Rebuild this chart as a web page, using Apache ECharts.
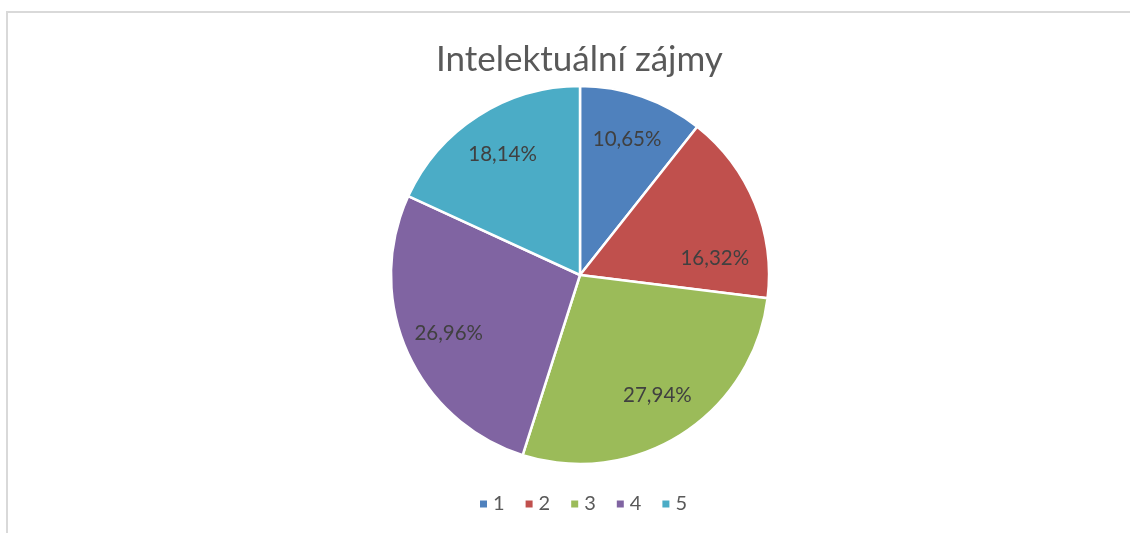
<!DOCTYPE html>
<html>
<head>
<meta charset="utf-8">
<title>Intelektuální zájmy</title>
<script src="https://cdn.jsdelivr.net/npm/echarts@6/dist/echarts.min.js"></script>
<style>
    html, body { margin: 0; padding: 0; background: #fff; }
    .frame {
        position: absolute; left: 6px; top: 11px; width: 1130px; height: 530px;
        border-left: 2px solid #d9d9d9; border-top: 2px solid #d9d9d9;
    }
    #main { position: absolute; left: 0; top: 0; width: 1130px; height: 533px; }
</style>
</head>
<body>
<div class="frame"></div>
<div id="main"></div>
<script>
    // data
    const categories = ['1', '2', '3', '4', '5'];
    const shares = [10.65, 16.32, 27.94, 26.96, 18.14];
    const colors = ['#4F81BD', '#C0504D', '#9BBB59', '#8064A2', '#4BACC6'];

    const pieData = categories.map((c, i) => ({ name: c, value: shares[i] }));
    const fmt = p => p.value.toFixed(2).replace('.', ',') + '%';

    let chart = echarts.init(document.getElementById('main'));
    chart.setOption({
        color: colors,
        title: {
            text: 'Intelektuální zájmy',
            left: 431,
            top: 37,
            textStyle: { fontFamily: 'Lato', fontSize: 35, fontWeight: 'normal', color: '#595959' }
        },
        legend: {
            top: 489,
            left: 473,
            icon: 'rect',
            itemWidth: 9,
            itemHeight: 9,
            itemGap: 19,
            textStyle: { fontFamily: 'Lato', fontSize: 20, color: '#595959' },
            data: categories
        },
        series: [{
            // coloured slices
            type: 'pie',
            center: [580, 275],
            radius: [0, 189],
            startAngle: 90,
            clockwise: true,
            animation: false,
            itemStyle: { borderColor: '#fff', borderWidth: 2.5 },
            label: { show: false },
            labelLine: { show: false },
            emphasis: { disabled: true },
            data: pieData
        }, {
            // invisible ring only used to put the labels further out
            type: 'pie',
            center: [580, 275],
            radius: [92, 189],
            startAngle: 90,
            clockwise: true,
            animation: false,
            silent: true,
            legendHoverLink: false,
            itemStyle: { color: 'rgba(0,0,0,0)', borderWidth: 0 },
            label: {
                show: true,
                position: 'inside',
                formatter: fmt,
                fontFamily: 'Lato',
                fontSize: 20.5,
                color: '#404040'
            },
            labelLine: { show: false },
            // excel's best-fit pushes the second label down a bit
            labelLayout: p => (p.dataIndex === 1 ? { dy: 38, dx: 2 } : {}),
            emphasis: { disabled: true },
            data: pieData
        }]
    });
</script>
</body>
</html>
